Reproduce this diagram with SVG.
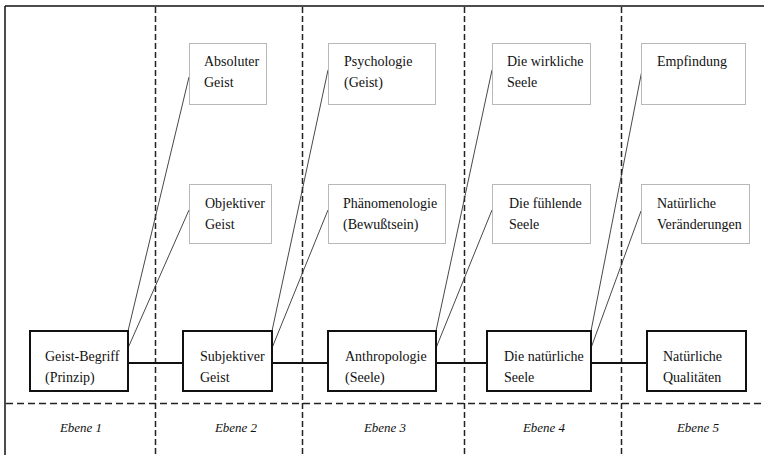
<svg xmlns="http://www.w3.org/2000/svg" width="764" height="455" viewBox="0 0 764 455" font-family="Liberation Serif, Times New Roman, serif">
<style>
  .t { font-size: 14px; fill: #111; }
  .e { font-size: 13px; font-style: italic; fill: #111; text-anchor: middle; }
  .main { fill: #fff; stroke: #111; stroke-width: 2; }
  .sub { fill: #fff; stroke: #b8b8b8; stroke-width: 1; }
  .vd { stroke: #222; stroke-width: 1.5; stroke-dasharray: 6 3; fill: none; }
  .hd { stroke: #222; stroke-width: 1.5; stroke-dasharray: 7 4; fill: none; }
  .thin { stroke: #333; stroke-width: 0.9; fill: none; }
  .thick { stroke: #111; stroke-width: 2.2; fill: none; }
</style>
<rect x="0" y="0" width="764" height="455" fill="#fff"/>
<g id="frame">
  <line x1="5" y1="6" x2="764" y2="6" stroke="#111" stroke-width="1.5"/>
  <line x1="5" y1="6" x2="5" y2="455" stroke="#111" stroke-width="1.5"/>
  <line class="vd" x1="155.5" y1="7" x2="155.5" y2="455"/>
  <line class="vd" x1="302.5" y1="7" x2="302.5" y2="455"/>
  <line class="vd" x1="464.5" y1="7" x2="464.5" y2="455"/>
  <line class="vd" x1="621.5" y1="7" x2="621.5" y2="455"/>
  <line class="hd" x1="6" y1="403.5" x2="764" y2="403.5"/>
</g>
<g id="connectors">
  <line class="thick" x1="128" y1="363" x2="183" y2="363"/>
  <line class="thick" x1="272" y1="363" x2="328" y2="363"/>
  <line class="thick" x1="436" y1="363" x2="487" y2="363"/>
  <line class="thick" x1="591" y1="363" x2="647" y2="363"/>
  <line class="thin" x1="128" y1="331" x2="189" y2="77"/>
  <line class="thin" x1="128" y1="348" x2="189" y2="210"/>
  <line class="thin" x1="272" y1="331" x2="328" y2="70"/>
  <line class="thin" x1="272" y1="348" x2="328" y2="210"/>
  <line class="thin" x1="436" y1="331" x2="492" y2="70"/>
  <line class="thin" x1="436" y1="348" x2="492" y2="210"/>
  <line class="thin" x1="591" y1="331" x2="642" y2="70"/>
  <line class="thin" x1="591" y1="348" x2="641" y2="211"/>
</g>
<g id="geist-begriff">
  <rect class="main" x="30" y="331" width="98" height="60"/>
  <text class="t" font-family="Liberation Serif, serif" x="45" y="361">Geist-Begriff</text>
  <text class="t" font-family="Liberation Serif, serif" x="45" y="382">(Prinzip)</text>
</g>
<g id="subjektiver-geist">
  <rect class="main" x="183" y="331" width="89" height="60"/>
  <text class="t" font-family="Liberation Serif, serif" x="200" y="361">Subjektiver</text>
  <text class="t" font-family="Liberation Serif, serif" x="200" y="382">Geist</text>
</g>
<g id="anthropologie">
  <rect class="main" x="328" y="331" width="108" height="60"/>
  <text class="t" font-family="Liberation Serif, serif" x="345" y="361">Anthropologie</text>
  <text class="t" font-family="Liberation Serif, serif" x="345" y="382">(Seele)</text>
</g>
<g id="natuerliche-seele">
  <rect class="main" x="487" y="331" width="104" height="60"/>
  <text class="t" font-family="Liberation Serif, serif" x="504" y="361">Die natürliche</text>
  <text class="t" font-family="Liberation Serif, serif" x="504" y="382">Seele</text>
</g>
<g id="natuerliche-qualitaeten">
  <rect class="main" x="647" y="331" width="99" height="60"/>
  <text class="t" font-family="Liberation Serif, serif" x="663" y="361">Natürliche</text>
  <text class="t" font-family="Liberation Serif, serif" x="663" y="382">Qualitäten</text>
</g>
<g id="absoluter-geist">
  <rect class="sub" x="189.5" y="43.5" width="77" height="61"/>
  <text class="t" font-family="Liberation Serif, serif" x="204" y="66">Absoluter</text>
  <text class="t" font-family="Liberation Serif, serif" x="204" y="87">Geist</text>
</g>
<g id="objektiver-geist">
  <rect class="sub" x="189.5" y="184.5" width="82" height="59"/>
  <text class="t" font-family="Liberation Serif, serif" x="205" y="208">Objektiver</text>
  <text class="t" font-family="Liberation Serif, serif" x="205" y="229">Geist</text>
</g>
<g id="psychologie">
  <rect class="sub" x="328.5" y="43.5" width="107" height="61"/>
  <text class="t" font-family="Liberation Serif, serif" x="344" y="66">Psychologie</text>
  <text class="t" font-family="Liberation Serif, serif" x="344" y="87">(Geist)</text>
</g>
<g id="phaenomenologie">
  <rect class="sub" x="328.5" y="184.5" width="117" height="59"/>
  <text class="t" font-family="Liberation Serif, serif" x="343" y="208">Phänomenologie</text>
  <text class="t" font-family="Liberation Serif, serif" x="343" y="229">(Bewußtsein)</text>
</g>
<g id="wirkliche-seele">
  <rect class="sub" x="492.5" y="43.5" width="98" height="61"/>
  <text class="t" font-family="Liberation Serif, serif" x="507" y="66">Die wirkliche</text>
  <text class="t" font-family="Liberation Serif, serif" x="507" y="87">Seele</text>
</g>
<g id="fuehlende-seele">
  <rect class="sub" x="492.5" y="184.5" width="98" height="59"/>
  <text class="t" font-family="Liberation Serif, serif" x="509" y="208">Die fühlende</text>
  <text class="t" font-family="Liberation Serif, serif" x="509" y="229">Seele</text>
</g>
<g id="empfindung">
  <rect class="sub" x="641.5" y="43.5" width="104" height="61"/>
  <text class="t" font-family="Liberation Serif, serif" x="657" y="66">Empfindung</text>
</g>
<g id="natuerliche-veraenderungen">
  <rect class="sub" x="641.5" y="184.5" width="108" height="59"/>
  <text class="t" font-family="Liberation Serif, serif" x="657" y="208">Natürliche</text>
  <text class="t" font-family="Liberation Serif, serif" x="657" y="229">Veränderungen</text>
</g>
<g id="labels">
  <text class="e" font-family="Liberation Serif, serif" x="81" y="432">Ebene 1</text>
  <text class="e" font-family="Liberation Serif, serif" x="236" y="432">Ebene 2</text>
  <text class="e" font-family="Liberation Serif, serif" x="385" y="432">Ebene 3</text>
  <text class="e" font-family="Liberation Serif, serif" x="544" y="432">Ebene 4</text>
  <text class="e" font-family="Liberation Serif, serif" x="698" y="432">Ebene 5</text>
</g>
</svg>
